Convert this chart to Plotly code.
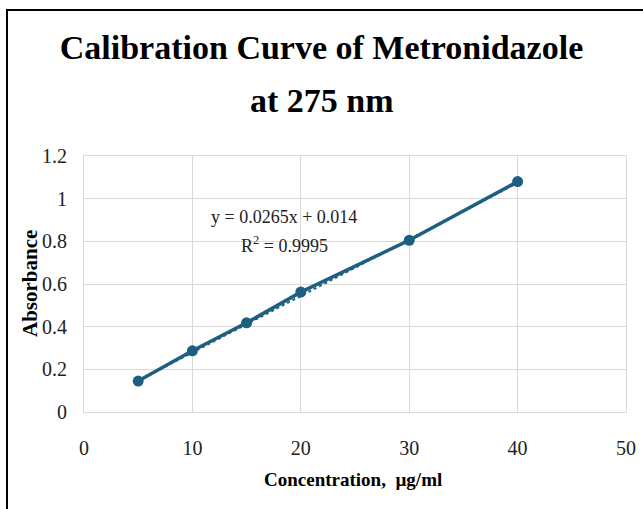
import numpy as np
import plotly.graph_objects as go

concentration = [5, 10, 15, 20, 30, 40]
absorbance = [0.145, 0.287, 0.418, 0.562, 0.805, 1.080]
slope = 0.0265
intercept = 0.014
x_ticks = [0, 10, 20, 30, 40, 50]
y_ticks = [0, 0.2, 0.4, 0.6, 0.8, 1.0, 1.2]
y_tick_text = ["0", "0.2", "0.4", "0.6", "0.8", "1", "1.2"]

W, H = 643, 509
L, R, T, B = 84, 17, 156, 97
pw, ph = W - L - R, H - T - B

color = "#1d5f80"
serif = "Liberation Serif, Times New Roman, serif"


def px_to_paper_y(py):
    return (H - B - py) / ph


def px_to_paper_x(px):
    return (px - L) / pw


fig = go.Figure()

trend_x = [min(concentration), max(concentration)]
trend_y = [slope * v + intercept for v in trend_x]
fig.add_trace(go.Scatter(x=trend_x, y=trend_y, mode="lines",
                         line=dict(color=color, width=2, dash="dot"),
                         showlegend=False, hoverinfo="skip"))
fig.add_trace(go.Scatter(x=concentration, y=absorbance, mode="lines+markers",
                         line=dict(color=color, width=3.5),
                         marker=dict(color=color, size=11),
                         showlegend=False))

fig.update_layout(
    width=W, height=H,
    margin=dict(l=L, r=R, t=T, b=B, autoexpand=False),
    paper_bgcolor="white", plot_bgcolor="white",
    title=dict(text="<b>Calibration Curve of Metronidazole</b>",
               x=0.5, xanchor="center", y=1 - 47 / H, yanchor="middle",
               font=dict(family=serif, size=34, color="black")),
    xaxis=dict(range=[0, 50], tickvals=x_ticks, showgrid=True, automargin=False,
               gridcolor="#d9d9d9", gridwidth=1, zeroline=False,
               showline=True, linecolor="#d9d9d9", mirror=True,
               ticks="outside", ticklen=18, tickcolor="rgba(0,0,0,0)",
               tickfont=dict(family=serif, size=20, color="#222")),
    yaxis=dict(range=[0, 1.2], tickvals=y_ticks, ticktext=y_tick_text,
               showgrid=True, automargin=False,
               gridcolor="#d9d9d9", gridwidth=1, zeroline=False,
               showline=True, linecolor="#d9d9d9", mirror=True,
               ticks="outside", ticklen=12, tickcolor="rgba(0,0,0,0)",
               tickfont=dict(family=serif, size=20, color="#222")),
)

fig.add_annotation(x=px_to_paper_x(W / 2), y=px_to_paper_y(100), xref="paper", yref="paper",
                   xanchor="center", yanchor="middle",
                   text="<b>at 275 nm</b>", showarrow=False,
                   font=dict(family=serif, size=34, color="black"))

fig.add_annotation(x=px_to_paper_x(353), y=px_to_paper_y(479), xref="paper", yref="paper",
                   xanchor="center", yanchor="middle",
                   text="<b>Concentration,  µg/ml</b>", showarrow=False,
                   font=dict(family=serif, size=19, color="black"))
fig.add_annotation(x=px_to_paper_x(30), y=px_to_paper_y(284), xref="paper", yref="paper",
                   xanchor="center", yanchor="middle", textangle=-90,
                   text="<b>Absorbance</b>", showarrow=False,
                   font=dict(family=serif, size=21, color="black"))

fig.add_annotation(x=px_to_paper_x(284), y=px_to_paper_y(205), xref="paper", yref="paper",
                   text="y = 0.0265x + 0.014", showarrow=False,
                   font=dict(family=serif, size=18, color="#222"))
fig.add_annotation(x=px_to_paper_x(284), y=px_to_paper_y(231), xref="paper", yref="paper",
                   text="R<sup>2</sup> = 0.9995", showarrow=False,
                   font=dict(family=serif, size=18, color="#222"))

fig.add_shape(type="rect", xref="paper", yref="paper",
              x0=px_to_paper_x(7), x1=px_to_paper_x(660),
              y0=px_to_paper_y(530), y1=px_to_paper_y(10),
              line=dict(color="black", width=2), fillcolor="rgba(0,0,0,0)")

fig.write_html("out.html", config={"displayModeBar": False},
               post_script="document.body.style.margin='0';")
